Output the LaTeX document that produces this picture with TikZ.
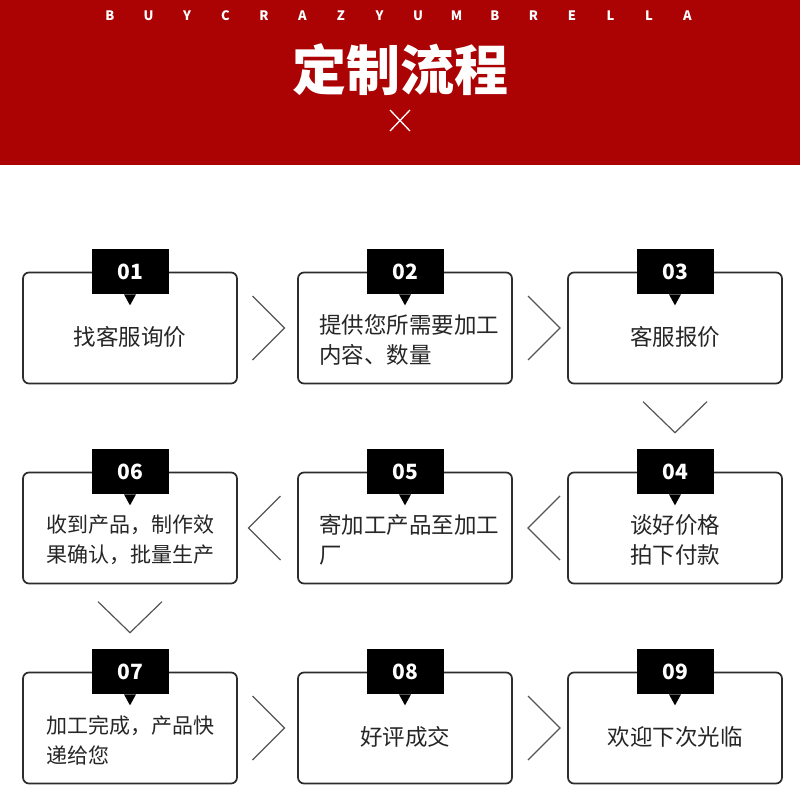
\documentclass[tikz,border=0pt]{standalone}
\usepackage{fontspec}
\setmainfont{Noto Sans CJK SC}
\usetikzlibrary{calc,positioning}
\definecolor{RojoCabecera}{RGB}{171,2,4}
\definecolor{GrisMarco}{RGB}{45,45,45}
\definecolor{GrisTexto}{RGB}{38,38,38}
\definecolor{GrisFlecha}{RGB}{85,85,85}
\tikzset{
  caja/.style={draw=GrisMarco,line width=1.7pt,rounded corners=6pt,minimum width=214pt,minimum height=111pt,inner sep=0pt},
  etiqueta/.style={fill=black,text=white,minimum width=77pt,minimum height=45pt,inner sep=0pt,font=\fontsize{21}{21}\selectfont\bfseries},
  paso/.style={text=GrisTexto,font=\fontsize{22.5}{30}\selectfont,inner sep=0pt},
  pasochico/.style={paso,font=\fontsize{21}{30}\selectfont},
  flechita/.style={draw=GrisFlecha,line width=1.2pt}
}
\begin{document}
\begin{tikzpicture}[x=1pt,y=-1pt]
  \fill[white] (0,0) rectangle (800,800);
  \useasboundingbox (0,0) rectangle (800,800);
  % cabecera
  \fill[RojoCabecera] (0,0) rectangle (800,165);
  \foreach \l [count=\i from 0] in {B,U,Y,C,R,A,Z,Y,U,M,B,R,E,L,L,A}
    \node[text=white,font=\fontsize{13}{13}\selectfont\bfseries] (l\i) at (110+38.5*\i,16) {\l};
  \node[text=white,font=\fontsize{54}{54}\selectfont\bfseries] (titulo) at (400,70) {定制流程};
  \draw[white,line width=1.3pt] (390,110) -- (410,131) (410,110) -- (390,131);
  % cajas con numero
  \foreach \n/\x/\y in {1/130/328,2/405/328,3/675/328,4/675/528,5/405/528,6/130/528,7/130/728,8/405/728,9/675/728}{
    \node[caja] (b\n) at (\x,\y) {};
    \node[etiqueta] (n\n) at (b\n.north) {0\n};
    \fill (n\n.south) ++(-6,0) -- ++(6,11) -- ++(6,-11) -- cycle;
  }
  \node[paso] (t1) at ($(b1.center)+(0,9)$) {找客服询价};
  \node[paso,anchor=west,align=left] (t2) at ($(b2.west)+(22,12)$) {提供您所需要加工\\内容、数量};
  \node[paso] (t3) at ($(b3.center)+(0,9)$) {客服报价};
  \node[paso,align=center] (t4) at ($(b4.center)+(0,12)$) {谈好价格\\拍下付款};
  \node[paso,anchor=west,align=left] (t5) at ($(b5.west)+(22,12)$) {寄加工产品至加工\\厂};
  \node[pasochico,anchor=west,align=left] (t6) at ($(b6.west)+(24,12)$) {收到产品，制作效\\果确认，批量生产};
  \node[pasochico,anchor=west,align=left] (t7) at ($(b7.west)+(24,12)$) {加工完成，产品快\\递给您};
  \node[paso] (t8) at ($(b8.center)+(0,9)$) {好评成交};
  \node[paso] (t9) at ($(b9.center)+(0,9)$) {欢迎下次光临};
  % flechas
  \draw[flechita] ($(b1.east)!.5!(b2.west)+(-15,-32)$) -- ++(32,32) -- ++(-32,32);
  \draw[flechita] ($(b2.east)!.5!(b3.west)+(-12,-32)$) -- ++(32,32) -- ++(-32,32);
  \draw[flechita] ($(b3.south)!.5!(n4.north)+(-32,-15)$) -- ++(32,31) -- ++(32,-31);
  \draw[flechita] ($(b5.east)!.5!(b4.west)+(20,-32)$) -- ++(-32,32) -- ++(32,32);
  \draw[flechita] ($(b6.east)!.5!(b5.west)+(13,-32)$) -- ++(-32,32) -- ++(32,32);
  \draw[flechita] ($(b6.south)!.5!(n7.north)+(-32,-15)$) -- ++(32,31) -- ++(32,-31);
  \draw[flechita] ($(b7.east)!.5!(b8.west)+(-15,-32)$) -- ++(32,32) -- ++(-32,32);
  \draw[flechita] ($(b8.east)!.5!(b9.west)+(-12,-32)$) -- ++(32,32) -- ++(-32,32);
\end{tikzpicture}
\end{document}
